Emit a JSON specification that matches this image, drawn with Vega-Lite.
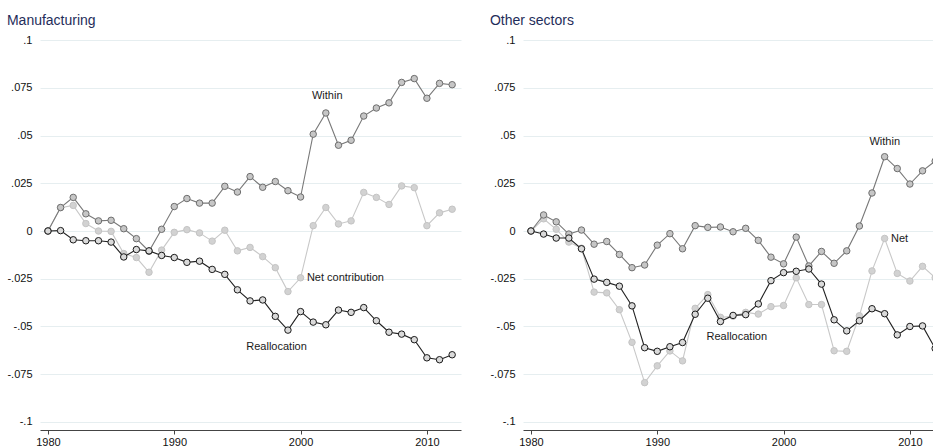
{
  "$schema": "https://vega.github.io/schema/vega-lite/v6.json",
  "background": "white",
  "padding": {"left": 6, "top": 14, "right": 0, "bottom": 0},
  "config": {
    "font": "Liberation Sans",
    "view": {"stroke": null},
    "axis": {"labelFont": "Liberation Sans", "labelFontSize": 11, "labelColor": "#111111", "title": null},
    "title": {"font": "Liberation Sans", "fontSize": 14, "fontWeight": "normal", "color": "#1f2d5a", "anchor": "start", "frame": "bounds", "offset": 4}
  },
  "datasets": {
    "series": [
      {"panel": "Manufacturing", "year": 1980, "Within": 0, "Net": 0, "Reallocation": 0},
      {"panel": "Manufacturing", "year": 1981, "Within": 0.0123, "Net": 0.0122, "Reallocation": 0.0002},
      {"panel": "Manufacturing", "year": 1982, "Within": 0.0176, "Net": 0.0134, "Reallocation": -0.0046},
      {"panel": "Manufacturing", "year": 1983, "Within": 0.009, "Net": 0.0039, "Reallocation": -0.0051},
      {"panel": "Manufacturing", "year": 1984, "Within": 0.0053, "Net": 0, "Reallocation": -0.0051},
      {"panel": "Manufacturing", "year": 1985, "Within": 0.0056, "Net": -0.0002, "Reallocation": -0.0058},
      {"panel": "Manufacturing", "year": 1986, "Within": 0.0012, "Net": -0.0118, "Reallocation": -0.0136},
      {"panel": "Manufacturing", "year": 1987, "Within": -0.004, "Net": -0.0139, "Reallocation": -0.0097},
      {"panel": "Manufacturing", "year": 1988, "Within": -0.0106, "Net": -0.0216, "Reallocation": -0.0104},
      {"panel": "Manufacturing", "year": 1989, "Within": 0.0009, "Net": -0.01, "Reallocation": -0.0128},
      {"panel": "Manufacturing", "year": 1990, "Within": 0.0128, "Net": -0.0007, "Reallocation": -0.0139},
      {"panel": "Manufacturing", "year": 1991, "Within": 0.017, "Net": 0.0007, "Reallocation": -0.0164},
      {"panel": "Manufacturing", "year": 1992, "Within": 0.0146, "Net": -0.001, "Reallocation": -0.0158},
      {"panel": "Manufacturing", "year": 1993, "Within": 0.0146, "Net": -0.0053, "Reallocation": -0.0201},
      {"panel": "Manufacturing", "year": 1994, "Within": 0.0234, "Net": 0.0004, "Reallocation": -0.0227},
      {"panel": "Manufacturing", "year": 1995, "Within": 0.0204, "Net": -0.0104, "Reallocation": -0.0308},
      {"panel": "Manufacturing", "year": 1996, "Within": 0.0285, "Net": -0.0086, "Reallocation": -0.0366},
      {"panel": "Manufacturing", "year": 1997, "Within": 0.0229, "Net": -0.0134, "Reallocation": -0.0361},
      {"panel": "Manufacturing", "year": 1998, "Within": 0.0259, "Net": -0.0192, "Reallocation": -0.0447},
      {"panel": "Manufacturing", "year": 1999, "Within": 0.0211, "Net": -0.0317, "Reallocation": -0.0519},
      {"panel": "Manufacturing", "year": 2000, "Within": 0.0178, "Net": -0.0245, "Reallocation": -0.0422},
      {"panel": "Manufacturing", "year": 2001, "Within": 0.0507, "Net": 0.0028, "Reallocation": -0.0477},
      {"panel": "Manufacturing", "year": 2002, "Within": 0.0618, "Net": 0.0123, "Reallocation": -0.0491},
      {"panel": "Manufacturing", "year": 2003, "Within": 0.0449, "Net": 0.0037, "Reallocation": -0.0414},
      {"panel": "Manufacturing", "year": 2004, "Within": 0.0475, "Net": 0.0053, "Reallocation": -0.0426},
      {"panel": "Manufacturing", "year": 2005, "Within": 0.0602, "Net": 0.0202, "Reallocation": -0.0401},
      {"panel": "Manufacturing", "year": 2006, "Within": 0.0644, "Net": 0.0176, "Reallocation": -0.047},
      {"panel": "Manufacturing", "year": 2007, "Within": 0.0671, "Net": 0.0139, "Reallocation": -0.053},
      {"panel": "Manufacturing", "year": 2008, "Within": 0.0778, "Net": 0.0236, "Reallocation": -0.054},
      {"panel": "Manufacturing", "year": 2009, "Within": 0.0798, "Net": 0.0227, "Reallocation": -0.0569},
      {"panel": "Manufacturing", "year": 2010, "Within": 0.0695, "Net": 0.0028, "Reallocation": -0.0664},
      {"panel": "Manufacturing", "year": 2011, "Within": 0.0773, "Net": 0.0095, "Reallocation": -0.0674},
      {"panel": "Manufacturing", "year": 2012, "Within": 0.0766, "Net": 0.0114, "Reallocation": -0.0648},
      {"panel": "Other sectors", "year": 1980, "Within": 0, "Net": 0, "Reallocation": 0},
      {"panel": "Other sectors", "year": 1981, "Within": 0.0084, "Net": 0.0064, "Reallocation": -0.0016},
      {"panel": "Other sectors", "year": 1982, "Within": 0.0048, "Net": 0.0009, "Reallocation": -0.0037},
      {"panel": "Other sectors", "year": 1983, "Within": -0.0016, "Net": -0.0058, "Reallocation": -0.0037},
      {"panel": "Other sectors", "year": 1984, "Within": 0.0005, "Net": -0.009, "Reallocation": -0.0093},
      {"panel": "Other sectors", "year": 1985, "Within": -0.0069, "Net": -0.032, "Reallocation": -0.0252},
      {"panel": "Other sectors", "year": 1986, "Within": -0.0055, "Net": -0.0324, "Reallocation": -0.0269},
      {"panel": "Other sectors", "year": 1987, "Within": -0.0123, "Net": -0.0412, "Reallocation": -0.0289},
      {"panel": "Other sectors", "year": 1988, "Within": -0.0192, "Net": -0.0583, "Reallocation": -0.0392},
      {"panel": "Other sectors", "year": 1989, "Within": -0.0178, "Net": -0.0794, "Reallocation": -0.0611},
      {"panel": "Other sectors", "year": 1990, "Within": -0.0074, "Net": -0.0706, "Reallocation": -0.063},
      {"panel": "Other sectors", "year": 1991, "Within": -0.0014, "Net": -0.0628, "Reallocation": -0.0606},
      {"panel": "Other sectors", "year": 1992, "Within": -0.0093, "Net": -0.068, "Reallocation": -0.0584},
      {"panel": "Other sectors", "year": 1993, "Within": 0.0028, "Net": -0.0405, "Reallocation": -0.0436},
      {"panel": "Other sectors", "year": 1994, "Within": 0.0019, "Net": -0.0333, "Reallocation": -0.0352},
      {"panel": "Other sectors", "year": 1995, "Within": 0.0021, "Net": -0.0452, "Reallocation": -0.0474},
      {"panel": "Other sectors", "year": 1996, "Within": -0.0004, "Net": -0.0446, "Reallocation": -0.0442},
      {"panel": "Other sectors", "year": 1997, "Within": 0.0014, "Net": -0.0426, "Reallocation": -0.0438},
      {"panel": "Other sectors", "year": 1998, "Within": -0.0049, "Net": -0.0435, "Reallocation": -0.0382},
      {"panel": "Other sectors", "year": 1999, "Within": -0.0137, "Net": -0.0396, "Reallocation": -0.026},
      {"panel": "Other sectors", "year": 2000, "Within": -0.0172, "Net": -0.039, "Reallocation": -0.0218},
      {"panel": "Other sectors", "year": 2001, "Within": -0.0032, "Net": -0.0245, "Reallocation": -0.0211},
      {"panel": "Other sectors", "year": 2002, "Within": -0.0183, "Net": -0.0385, "Reallocation": -0.0199},
      {"panel": "Other sectors", "year": 2003, "Within": -0.0107, "Net": -0.0385, "Reallocation": -0.0278},
      {"panel": "Other sectors", "year": 2004, "Within": -0.0169, "Net": -0.0627, "Reallocation": -0.0465},
      {"panel": "Other sectors", "year": 2005, "Within": -0.0104, "Net": -0.063, "Reallocation": -0.0523},
      {"panel": "Other sectors", "year": 2006, "Within": 0.0026, "Net": -0.0444, "Reallocation": -0.047},
      {"panel": "Other sectors", "year": 2007, "Within": 0.0199, "Net": -0.0209, "Reallocation": -0.0407},
      {"panel": "Other sectors", "year": 2008, "Within": 0.0389, "Net": -0.0039, "Reallocation": -0.0433},
      {"panel": "Other sectors", "year": 2009, "Within": 0.0327, "Net": -0.0222, "Reallocation": -0.0544},
      {"panel": "Other sectors", "year": 2010, "Within": 0.0246, "Net": -0.0262, "Reallocation": -0.05},
      {"panel": "Other sectors", "year": 2011, "Within": 0.0315, "Net": -0.0185, "Reallocation": -0.0497},
      {"panel": "Other sectors", "year": 2012, "Within": 0.0366, "Net": -0.0245, "Reallocation": -0.0615}
    ],
    "labels": [
      {"panel": "Manufacturing", "label": "Within", "year": 2000.9, "value": 0.0709},
      {"panel": "Manufacturing", "label": "Net contribution", "year": 2000.5, "value": -0.0247},
      {"panel": "Manufacturing", "label": "Reallocation", "year": 1995.7, "value": -0.061},
      {"panel": "Other sectors", "label": "Within", "year": 2006.8, "value": 0.0467},
      {"panel": "Other sectors", "label": "Net", "year": 2008.5, "value": -0.0042},
      {"panel": "Other sectors", "label": "Reallocation", "year": 1993.9, "value": -0.0557}
    ]
  },
  "spacing": 28,
  "hconcat": [
    {
      "title": {"text": "Manufacturing"},
      "width": 421,
      "height": 398,
      "data": {"name": "series"},
      "transform": [{"filter": "datum.panel === 'Manufacturing'"}],
      "encoding": {
        "x": {"field": "year", "type": "quantitative", "scale": {"domain": [1979.37, 2012.7], "nice": false, "zero": false},
          "axis": {"values": [1980, 1990, 2000, 2010], "labelExpr": "datum.value + ''", "grid": false, "domainColor": "#444444", "tickColor": "#444444", "tickSize": 4, "labelPadding": 2, "labelFlush": false}},
        "y": {"type": "quantitative", "scale": {"domain": [-0.1042, 0.1042], "nice": false, "zero": false},
          "axis": {"values": [-0.1, -0.075, -0.05, -0.025, 0, 0.025, 0.05, 0.075, 0.1], "labelExpr": "replace(datum.value + '', '0.', '.')", "domain": false, "ticks": false, "grid": true, "gridColor": "#e6eef0", "gridWidth": 1, "labelPadding": 8}}
      },
      "layer": [
        {"mark": {"type": "line", "color": "#c8c8c8", "strokeWidth": 1.1}, "encoding": {"y": {"field": "Net", "type": "quantitative"}}},
        {"mark": {"type": "point", "filled": true, "size": 42, "fill": "#d2d2d2", "stroke": "#c4c4c4", "strokeWidth": 1, "opacity": 1}, "encoding": {"y": {"field": "Net", "type": "quantitative"}}},
        {"mark": {"type": "line", "color": "#787878", "strokeWidth": 1.1}, "encoding": {"y": {"field": "Within", "type": "quantitative"}}},
        {"mark": {"type": "point", "filled": true, "size": 42, "fill": "#c6c6c6", "stroke": "#6e6e6e", "strokeWidth": 1, "opacity": 1}, "encoding": {"y": {"field": "Within", "type": "quantitative"}}},
        {"mark": {"type": "line", "color": "#222222", "strokeWidth": 1.1}, "encoding": {"y": {"field": "Reallocation", "type": "quantitative"}}},
        {"mark": {"type": "point", "filled": true, "size": 42, "fill": "#dadada", "stroke": "#1a1a1a", "strokeWidth": 1, "opacity": 1}, "encoding": {"y": {"field": "Reallocation", "type": "quantitative"}}},
        {"data": {"name": "labels"}, "transform": [{"filter": "datum.panel === 'Manufacturing'"}],
          "mark": {"type": "text", "align": "left", "baseline": "middle", "fontSize": 11, "font": "Liberation Sans", "color": "#1a1a1a"},
          "encoding": {"y": {"field": "value", "type": "quantitative"}, "text": {"field": "label"}}}
      ]
    },
    {
      "title": {"text": "Other sectors"},
      "width": 421,
      "height": 398,
      "data": {"name": "series"},
      "transform": [{"filter": "datum.panel === 'Other sectors'"}],
      "encoding": {
        "x": {"field": "year", "type": "quantitative", "scale": {"domain": [1979.37, 2012.7], "nice": false, "zero": false},
          "axis": {"values": [1980, 1990, 2000, 2010], "labelExpr": "datum.value + ''", "grid": false, "domainColor": "#444444", "tickColor": "#444444", "tickSize": 4, "labelPadding": 2, "labelFlush": false}},
        "y": {"type": "quantitative", "scale": {"domain": [-0.1042, 0.1042], "nice": false, "zero": false},
          "axis": {"values": [-0.1, -0.075, -0.05, -0.025, 0, 0.025, 0.05, 0.075, 0.1], "labelExpr": "replace(datum.value + '', '0.', '.')", "domain": false, "ticks": false, "grid": true, "gridColor": "#e6eef0", "gridWidth": 1, "labelPadding": 8}}
      },
      "layer": [
        {"mark": {"type": "line", "color": "#c8c8c8", "strokeWidth": 1.1}, "encoding": {"y": {"field": "Net", "type": "quantitative"}}},
        {"mark": {"type": "point", "filled": true, "size": 42, "fill": "#d2d2d2", "stroke": "#c4c4c4", "strokeWidth": 1, "opacity": 1}, "encoding": {"y": {"field": "Net", "type": "quantitative"}}},
        {"mark": {"type": "line", "color": "#787878", "strokeWidth": 1.1}, "encoding": {"y": {"field": "Within", "type": "quantitative"}}},
        {"mark": {"type": "point", "filled": true, "size": 42, "fill": "#c6c6c6", "stroke": "#6e6e6e", "strokeWidth": 1, "opacity": 1}, "encoding": {"y": {"field": "Within", "type": "quantitative"}}},
        {"mark": {"type": "line", "color": "#222222", "strokeWidth": 1.1}, "encoding": {"y": {"field": "Reallocation", "type": "quantitative"}}},
        {"mark": {"type": "point", "filled": true, "size": 42, "fill": "#dadada", "stroke": "#1a1a1a", "strokeWidth": 1, "opacity": 1}, "encoding": {"y": {"field": "Reallocation", "type": "quantitative"}}},
        {"data": {"name": "labels"}, "transform": [{"filter": "datum.panel === 'Other sectors'"}],
          "mark": {"type": "text", "align": "left", "baseline": "middle", "fontSize": 11, "font": "Liberation Sans", "color": "#1a1a1a"},
          "encoding": {"y": {"field": "value", "type": "quantitative"}, "text": {"field": "label"}}}
      ]
    }
  ]
}
